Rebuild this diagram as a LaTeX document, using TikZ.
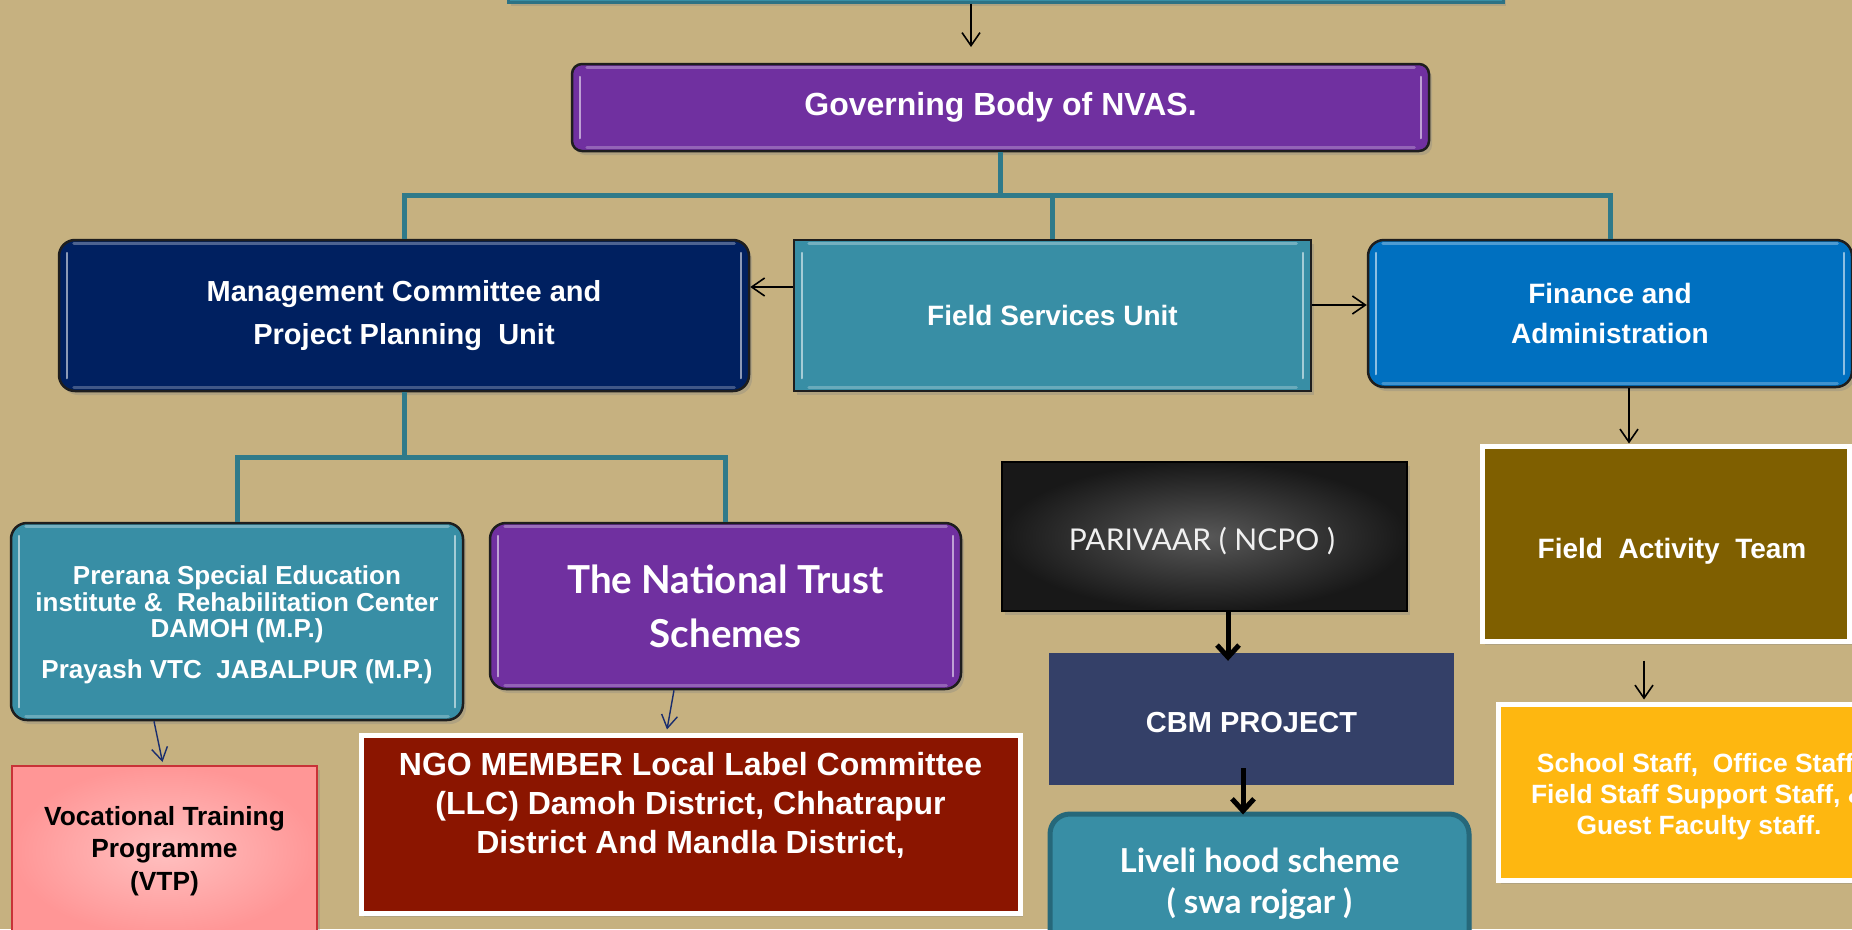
\documentclass[tikz,border=0pt]{standalone}
\usepackage{fontspec}
\setmainfont{Liberation Sans}
\newfontfamily\gill{Lato}
\usetikzlibrary{arrows.meta,shadows,calc}
\definecolor{bg}{RGB}{198,177,128}
\definecolor{purp}{RGB}{112,48,160}
\definecolor{navy}{RGB}{0,32,96}
\definecolor{teal1}{RGB}{56,142,165}
\definecolor{finblue}{RGB}{0,112,192}
\definecolor{treecol}{RGB}{47,122,138}
\definecolor{ngored}{RGB}{139,21,0}
\definecolor{fatcol}{RGB}{127,95,0}
\definecolor{staffcol}{RGB}{254,183,16}
\definecolor{cbmcol}{RGB}{52,64,104}
\definecolor{livborder}{RGB}{38,104,122}
\definecolor{vtpred}{RGB}{200,50,55}
\definecolor{vtpin}{RGB}{255,192,192}
\definecolor{vtpout}{RGB}{255,150,150}
\definecolor{navyline}{RGB}{25,45,110}
\definecolor{boxline}{RGB}{30,30,30}
\definecolor{parin}{RGB}{88,88,88}
\definecolor{parout}{RGB}{24,24,24}
\newcommand\bevlines[1]{%
  \draw[bev] ($(#1.north west)+(9,14)$) -- ($(#1.south west)+(9,-14)$);
  \draw[bev] ($(#1.north east)+(-9,14)$) -- ($(#1.south east)+(-9,-14)$);
  \draw[bev,opacity=0.3,line width=3pt] ($(#1.north west)+(16,5)$) -- ($(#1.north east)+(-16,5)$);
  \draw[bev,opacity=0.25,line width=3pt] ($(#1.south west)+(16,-5)$) -- ($(#1.south east)+(-16,-5)$);
}
\tikzset{
  shad/.style={drop shadow={shadow xshift=3pt,shadow yshift=-4pt,opacity=0.3}},
  box/.style={draw=boxline,line width=2.5pt,text=white,align=center,inner sep=0pt,shad},
  rbox/.style={box,rounded corners=16pt},
  wbox/.style={draw=white,line width=5pt,text=white,align=center,inner sep=0pt,shad},
  tree/.style={draw=treecol,line width=5pt},
  arr/.style={draw=black,line width=1.6pt,-{Straight Barb[length=13pt,width=18pt,line width=1.6pt]}},
  navyarr/.style={draw=navyline,line width=1.4pt,-{Straight Barb[length=13pt,width=16pt,line width=1.4pt]}},
  thickarr/.style={draw=black,line width=5pt,-{Straight Barb[length=12pt,width=22pt,line width=5pt]}},
  bev/.style={draw=white,opacity=0.55,line width=2pt,line cap=round},
  txt/.style={text=white,align=center,inner sep=0pt}
}
\begin{document}
\begin{tikzpicture}[x=1pt,y=-1pt]
\useasboundingbox (0,0) rectangle (1852,929);
\clip (0,0) rectangle (1852,929);
\fill[bg] (0,0) rectangle (1852,929);

% top (cut) box
\node[box,fill=teal1,draw=teal1!80!black,line width=3pt,minimum width=995pt,minimum height=84pt] (top) at (1005.5,-40) {};

% governing body
\node[rbox,fill=purp,rounded corners=10pt,minimum width=857pt,minimum height=87pt,
      font={\bfseries\fontsize{32}{38}\selectfont}] (gov) at (1000.5,107.5) {Governing Body of NVAS.};

% second row
\node[rbox,fill=navy,minimum width=690pt,minimum height=151pt,
      font={\bfseries\fontsize{29}{42.5}\selectfont}] (mgmt) at (404,315.5) {Management Committee and\\Project Planning\ \ Unit};
\node[box,fill=teal1,minimum width=517pt,minimum height=151pt,
      font={\bfseries\fontsize{28}{34}\selectfont}] (fsu) at (1052.5,315.5) {Field Services Unit};
\node[rbox,fill=finblue,minimum width=484pt,minimum height=147pt,
      font={\bfseries\fontsize{28}{40}\selectfont}] (fin) at (1610,313.5) {Finance and\\Administration};

% third row
\node[rbox,fill=teal1,minimum width=452pt,minimum height=197pt] (prer) at (237,621.5) {};
\node[txt,font={\bfseries\fontsize{26}{26.5}\selectfont}] (prert) at (237,625)
      {Prerana Special Education\\institute \&\ \ Rehabilitation Center\\DAMOH (M.P.)\\[14pt]Prayash VTC\ \ JABALPUR (M.P.)};
\node[rbox,fill=purp,minimum width=471pt,minimum height=166pt,
      font={\gill\bfseries\fontsize{38.5}{54}\selectfont}] (nt) at (725.5,606) {The National Trust\\Schemes};
\node[draw=black,line width=2.5pt,inner color=parin,outer color=parout,minimum width=405pt,minimum height=149pt,shad] (par) at (1204.5,536.5) {};
\node[txt,text=white!94!black,font={\gill\fontsize{30}{36}\selectfont}] (part) at (1202,541.5) {PARIVAAR ( NCPO )};
\node[wbox,fill=fatcol,minimum width=367pt,minimum height=195pt] (fat) at (1665.5,543.5) {};
\node[txt,font={\bfseries\fontsize{28}{34}\selectfont}] (fatt) at (1672,551) {Field\ \ Activity\ \ Team};

% fourth row
\node[draw=vtpred,line width=2pt,inner color=vtpin,outer color=vtpout,minimum width=305pt,minimum height=170pt,
      text=black,align=center,inner sep=0pt,shad,font={\bfseries\fontsize{26.3}{32.5}\selectfont}] (vtp) at (164.5,851)
      {Vocational Training\\Programme\\(VTP)};
\node[wbox,fill=ngored,minimum width=659pt,minimum height=178pt] (ngo) at (690.5,824) {};
\node[txt,font={\bfseries\fontsize{32}{39}\selectfont}] (ngot) at (690.5,805)
      {NGO MEMBER Local Label Committee\\(LLC) Damoh District, Chhatrapur\\District And Mandla District,};
\node[fill=cbmcol,minimum width=405pt,minimum height=132pt,inner sep=0pt] (cbm) at (1251.5,719) {};
\node[txt,font={\bfseries\fontsize{29}{34}\selectfont}] (cbmt) at (1251.5,722.5) {CBM PROJECT};
\node[draw=livborder,line width=5pt,fill=teal1,rounded corners=20pt,minimum width=419pt,minimum height=139pt,
      text=white,align=center,inner sep=0pt,shad,font={\gill\bfseries\fontsize{33}{41}\selectfont}] (liv) at (1259.5,883.5)
      {Liveli hood scheme\\( swa rojgar )};
\node[wbox,fill=staffcol,minimum width=402pt,minimum height=176pt] (staff) at (1699,792) {};
\node[txt,font={\bfseries\fontsize{26.4}{31}\selectfont}] (stafft) at (1699,797)
      {School Staff,\ \ Office Staff,\\Field Staff Support Staff, \&\\Guest Faculty staff.};

% bevel highlights
\bevlines{gov}
\bevlines{mgmt}
\bevlines{fsu}
\bevlines{fin}
\bevlines{prer}
\bevlines{nt}

% tree connectors
\coordinate (j1) at (1000.5,195);
\draw[tree] (gov.south) -- (j1);
\draw[tree] (mgmt.north) |- (j1) -| (fin.north);
\draw[tree] (fsu.north) -- (fsu.north |- j1);
\coordinate (j2) at (404,457);
\draw[tree] (mgmt.south) -- (j2);
\draw[tree] (prer.north) |- (j2) -| (nt.north);

% arrows
\coordinate (t1) at (971,47);
\draw[arr] (top.south -| t1) -- (t1);
\coordinate (ya) at (0,287);
\draw[arr] (fsu.west |- ya) -- (mgmt.east |- ya);
\coordinate (yb) at (0,305);
\draw[arr] (fsu.east |- yb) -- (fin.west |- yb);
\coordinate (xc) at (1629,0);
\draw[arr] (fin.south -| xc) -- (fat.north -| xc);
\coordinate (xd) at (1644,0);
\draw[arr] ($(fat.south -| xd)+(0,17)$) -- ($(staff.north -| xd)+(0,-2)$);
\draw[navyarr] ($(prer.south)+(-83,0)$) -- ($(vtp.north)+(-2,-3)$);
\draw[navyarr] ($(nt.south)+(-51.5,0)$) -- ($(ngo.north)+(-23.5,-3)$);
\draw[thickarr] ($(par.south)+(23.5,0)$) -- ($(cbm.north)+(-23.5,8)$);
\draw[thickarr] ($(cbm.south)+(-8.5,-17)$) -- ($(liv.north)+(-16.5,3)$);
\end{tikzpicture}
\end{document}
